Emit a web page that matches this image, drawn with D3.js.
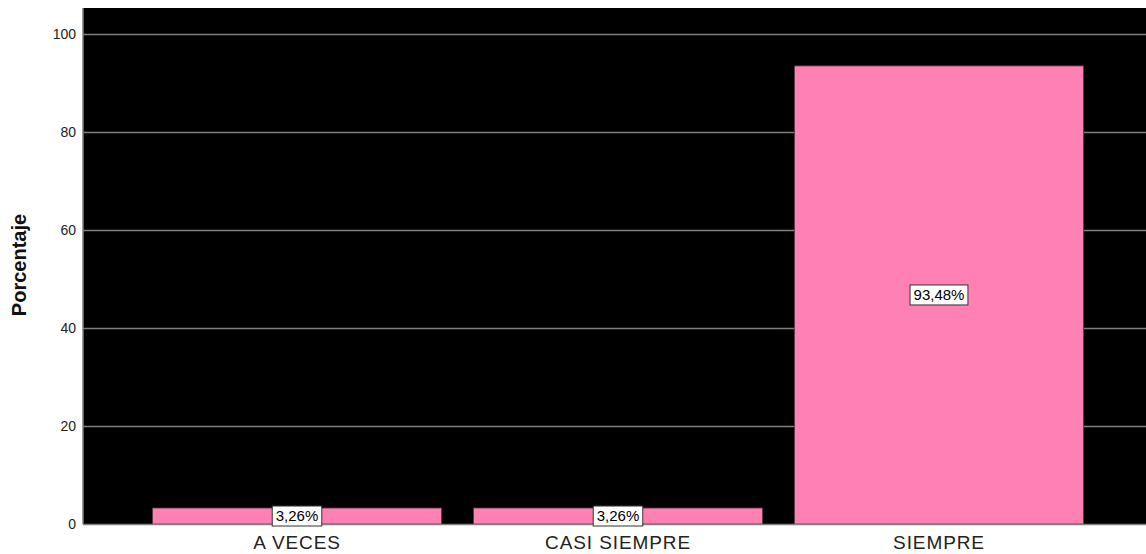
<!DOCTYPE html>
<html>
<head>
<meta charset="utf-8">
<script src="https://cdn.jsdelivr.net/npm/d3@7"></script>
<style>
  html, body { margin: 0; padding: 0; background: #fff; overflow: hidden; }
  svg { display: block; font-family: Arial, "Liberation Sans", sans-serif; }
</style>
</head>
<body>
<svg id="chart" width="1146" height="554"></svg>
<script>
// Frecuencia de respuestas (porcentaje)
const categories = ["A VECES", "CASI SIEMPRE", "SIEMPRE"];
const values = [3.26, 3.26, 93.48];
const labels = ["3,26%", "3,26%", "93,48%"];
const yTicks = [0, 20, 40, 60, 80, 100];

const svg = d3.select("#chart");
const plot = { left: 83, top: 8, right: 1153, bottom: 524 };
const FONT = "Arial, 'Liberation Sans', sans-serif";

const x = d3.scaleBand()
  .domain(categories)
  .range([plot.left, plot.right])
  .paddingInner(0.1)
  .paddingOuter(0.2167);

const y = d3.scaleLinear()
  .domain([0, 105.3])
  .range([plot.bottom, plot.top]);

// Fondo del área de trazado
svg.append("rect")
  .attr("x", plot.left)
  .attr("y", plot.top)
  .attr("width", plot.right - plot.left)
  .attr("height", plot.bottom - plot.top)
  .attr("fill", "#000");

// Líneas de cuadrícula
svg.append("g")
  .selectAll("line")
  .data(yTicks.filter(d => d > 0))
  .join("line")
  .attr("x1", plot.left)
  .attr("x2", plot.right)
  .attr("y1", d => y(d) + 0.5)
  .attr("y2", d => y(d) + 0.5)
  .attr("stroke", "#808080")
  .attr("stroke-width", 1.5);

// Barras
svg.append("g")
  .selectAll("rect")
  .data(values)
  .join("rect")
  .attr("x", (d, i) => x(categories[i]))
  .attr("y", d => y(d))
  .attr("width", x.bandwidth())
  .attr("height", d => y(0) - y(d))
  .attr("fill", "#FF80B2")
  .attr("stroke", "#5a3a48")
  .attr("stroke-width", 0.8);

// Eje Y
const yAxis = d3.axisLeft(y)
  .tickValues(yTicks)
  .tickSize(0)
  .tickPadding(7);
const gy = svg.append("g")
  .attr("transform", `translate(${plot.left},0)`)
  .call(yAxis);
gy.select(".domain").attr("stroke", "#808080").attr("stroke-width", 1.5)
  .attr("d", `M0,${plot.top}V${plot.bottom}`);
gy.selectAll("text").attr("font-size", 14).attr("fill", "#222")
  .attr("font-family", FONT);

// Eje X
svg.append("line")
  .attr("x1", plot.left).attr("x2", plot.right)
  .attr("y1", plot.bottom + 0.5).attr("y2", plot.bottom + 0.5)
  .attr("stroke", "#808080").attr("stroke-width", 1.5);

const xAxis = d3.axisBottom(x).tickSize(0).tickPadding(11.5);
const gx = svg.append("g")
  .attr("transform", `translate(0,${plot.bottom})`)
  .call(xAxis);
gx.select(".domain").remove();
gx.selectAll("text").attr("font-size", 19).attr("fill", "#222")
  .attr("letter-spacing", "0.9px")
  .attr("font-family", FONT);

// Título del eje Y
svg.append("text")
  .attr("transform", `translate(26,265) rotate(-90)`)
  .attr("text-anchor", "middle")
  .attr("font-size", 20)
  .attr("font-weight", "bold")
  .attr("font-family", FONT)
  .attr("fill", "#111")
  .text("Porcentaje");

// Etiquetas de valor
const lab = svg.append("g")
  .selectAll("g")
  .data(values)
  .join("g")
  .attr("transform", (d, i) => {
    const cx = x(categories[i]) + x.bandwidth() / 2;
    const cy = (y(d) + y(0)) / 2;
    return `translate(${cx},${cy})`;
  });

lab.append("text")
  .attr("text-anchor", "middle")
  .attr("dy", "0.36em")
  .attr("font-size", 15)
  .attr("font-family", FONT)
  .attr("fill", "#000")
  .text((d, i) => labels[i]);

lab.each(function () {
  const g = d3.select(this);
  const bb = g.select("text").node().getBBox();
  g.insert("rect", "text")
    .attr("x", bb.x - 3.5)
    .attr("y", -10)
    .attr("width", bb.width + 7)
    .attr("height", 20)
    .attr("fill", "#fff")
    .attr("stroke", "#333")
    .attr("stroke-width", 1);
});
</script>
</body>
</html>
